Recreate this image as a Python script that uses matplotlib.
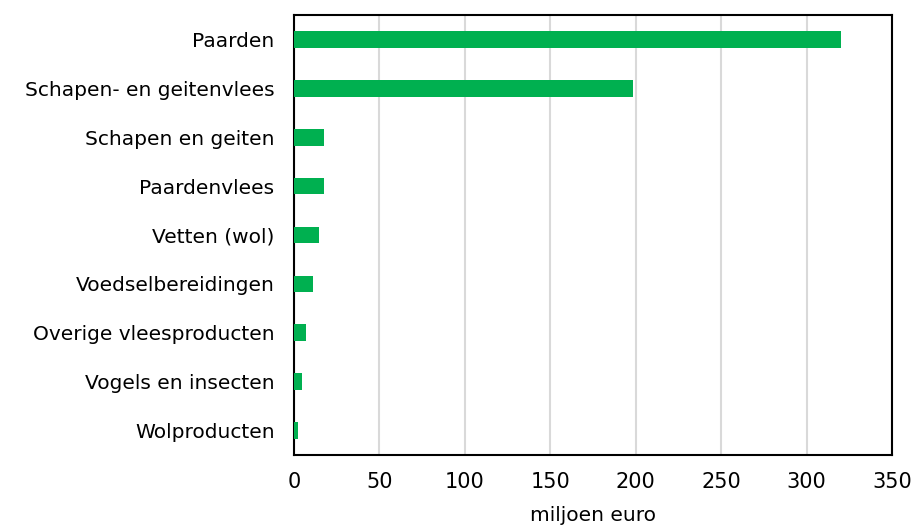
import matplotlib
matplotlib.use("Agg")
import matplotlib.pyplot as plt

categories = ["Paarden", "Schapen- en geitenvlees", "Schapen en geiten", "Paardenvlees",
              "Vetten (wol)", "Voedselbereidingen", "Overige vleesproducten",
              "Vogels en insecten", "Wolproducten"]
values = [320, 198.6, 17.3, 17.3, 14.5, 11.2, 7.1, 4.6, 2.6]
xticks = [0, 50, 100, 150, 200, 250, 300, 350]

plt.rcParams['font.family'] = ['DejaVu Sans']
fig = plt.figure(figsize=(9.15, 5.28), dpi=100)
ax = fig.add_axes([294/915, 1-455/528, (892-294)/915, (455-15)/528])

y = list(range(len(categories)))
ax.barh(y, values, height=0.34, color="#00B050", zorder=3)
ax.set_ylim(8.5, -0.5)
ax.set_xlim(0, 350)
ax.set_xticks(xticks)
ax.set_yticks(y)
ax.set_yticklabels(categories, fontsize=14.5)
ax.tick_params(axis='x', labelsize=15, length=0, pad=12)
ax.tick_params(axis='y', length=0, pad=14)
ax.grid(axis='x', color="#d9d9d9", linewidth=1.5, zorder=0)
for s in ax.spines.values():
    s.set_color("black")
    s.set_linewidth(1.5)
ax.set_xlabel("miljoen euro", fontsize=14.5, labelpad=10)
fig.savefig("out.png", dpi=100)
